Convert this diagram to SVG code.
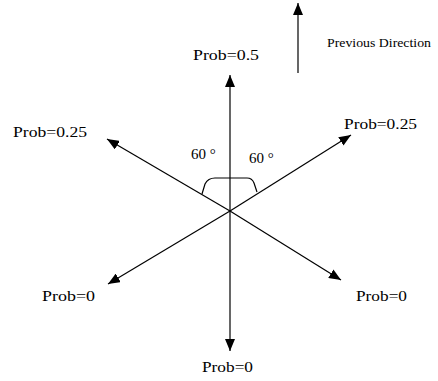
<svg xmlns="http://www.w3.org/2000/svg" width="438" height="381" viewBox="0 0 438 381">
<defs>
<style>
.t{font-family:"Liberation Serif","Times New Roman",serif;font-size:15px;fill:#000}
.s{font-family:"Liberation Serif","Times New Roman",serif;font-size:12px;fill:#000}
.ln{stroke:#000;stroke-width:1.2;fill:none}
</style>
<marker id="ah" viewBox="0 0 12 10" refX="12" refY="5" markerWidth="12" markerHeight="10" markerUnits="userSpaceOnUse" orient="auto">
<path d="M0,0 L12,5 L0,10 Z" fill="#000"/>
</marker>
</defs>
<rect width="438" height="381" fill="#fff"/>
<g id="connectors">
<line class="ln" x1="230" y1="211" x2="230" y2="75" marker-end="url(#ah)"/>
<line class="ln" x1="230" y1="211" x2="230" y2="351" marker-end="url(#ah)"/>
<line class="ln" x1="230" y1="211" x2="107" y2="139" marker-end="url(#ah)"/>
<line class="ln" x1="230" y1="211" x2="351" y2="135" marker-end="url(#ah)"/>
<line class="ln" x1="230" y1="211" x2="108" y2="284" marker-end="url(#ah)"/>
<line class="ln" x1="230" y1="211" x2="341" y2="280" marker-end="url(#ah)"/>
<line class="ln" x1="298" y1="73" x2="298" y2="3" marker-end="url(#ah)"/>
<path class="ln" d="M202,194 L205,184 Q208,178 215,178 L247,178 Q252,178 254,183 L257,192"/>
</g>
<g id="prob-up"><text class="t" x="193" y="60" textLength="66" lengthAdjust="spacingAndGlyphs">Prob=0.5</text></g>
<g id="previous-direction"><text class="s" x="327" y="47" textLength="104" lengthAdjust="spacingAndGlyphs">Previous Direction</text></g>
<g id="prob-upleft"><text class="t" x="13" y="137" textLength="74" lengthAdjust="spacingAndGlyphs">Prob=0.25</text></g>
<g id="prob-upright"><text class="t" x="344" y="129" textLength="73" lengthAdjust="spacingAndGlyphs">Prob=0.25</text></g>
<g id="prob-downleft"><text class="t" x="42" y="301" textLength="53" lengthAdjust="spacingAndGlyphs">Prob=0</text></g>
<g id="prob-downright"><text class="t" x="356" y="301" textLength="51" lengthAdjust="spacingAndGlyphs">Prob=0</text></g>
<g id="prob-down"><text class="t" x="202" y="372" textLength="51" lengthAdjust="spacingAndGlyphs">Prob=0</text></g>
<g id="angle-left"><text class="t" x="191" y="159">60 °</text></g>
<g id="angle-right"><text class="t" x="249" y="163">60 °</text></g>
</svg>
